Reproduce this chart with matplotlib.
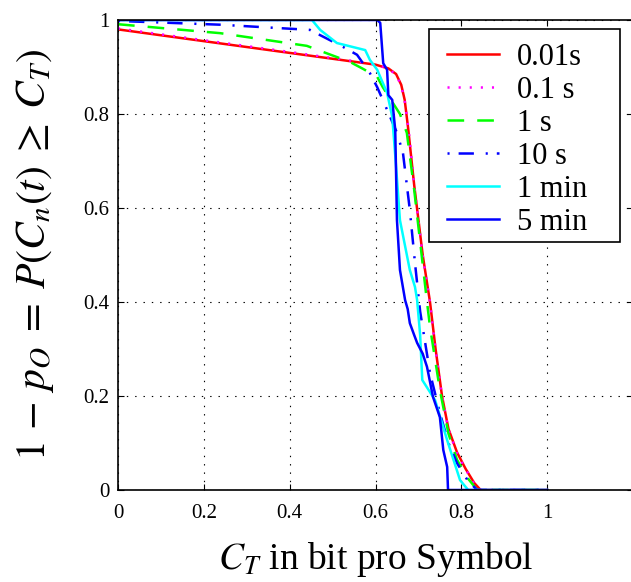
import matplotlib
matplotlib.use("Agg")
import matplotlib.pyplot as plt
from matplotlib.patches import Rectangle

plt.rcParams['font.family'] = ['Liberation Serif', 'DejaVu Serif']
plt.rcParams['mathtext.fontset'] = 'stix'
plt.rcParams['lines.scale_dashes'] = False

labels = ['0.01s', '0.1 s', '1 s', '10 s', '1 min', '5 min']

x_001 = [0.0, 0.2, 0.4, 0.6, 0.63, 0.648, 0.66, 0.668, 0.676, 0.69, 0.71, 0.727, 0.74, 0.755, 0.77, 0.79, 0.81, 0.83, 0.845, 1.0]
y_001 = [0.98, 0.955, 0.93, 0.905, 0.897, 0.885, 0.862, 0.83, 0.77, 0.65, 0.5, 0.40, 0.30, 0.20, 0.13, 0.08, 0.045, 0.015, 0.0, 0.0]

x_01 = [0.0, 0.2, 0.4, 0.6, 0.63, 0.648, 0.66, 0.668, 0.677, 0.69, 0.71, 0.727, 0.74, 0.755, 0.77, 0.79, 0.81, 0.83, 0.845, 1.0]
y_01 = [0.982, 0.957, 0.932, 0.906, 0.896, 0.884, 0.86, 0.828, 0.768, 0.648, 0.498, 0.398, 0.298, 0.198, 0.128, 0.078, 0.044, 0.014, 0.0, 0.0]

x_1 = [0.0, 0.238, 0.44, 0.478, 0.54, 0.571, 0.604, 0.617, 0.657, 0.673, 0.69, 0.705, 0.72, 0.727, 0.75, 0.77, 0.79, 0.815, 0.837, 1.0]
y_1 = [0.991, 0.972, 0.945, 0.932, 0.911, 0.896, 0.879, 0.857, 0.80, 0.76, 0.64, 0.52, 0.40, 0.347, 0.213, 0.12, 0.064, 0.025, 0.0, 0.0]

x_10 = [0.0, 0.238, 0.447, 0.524, 0.557, 0.587, 0.604, 0.617, 0.65, 0.664, 0.68, 0.692, 0.704, 0.727, 0.75, 0.77, 0.79, 0.815, 0.837, 1.0]
y_10 = [0.998, 0.99, 0.979, 0.943, 0.926, 0.887, 0.857, 0.83, 0.76, 0.717, 0.596, 0.483, 0.38, 0.249, 0.164, 0.10, 0.057, 0.02, 0.0, 0.0]

x_1m = [0.0, 0.452, 0.471, 0.51, 0.576, 0.587, 0.604, 0.627, 0.639, 0.647, 0.657, 0.68, 0.692, 0.697, 0.704, 0.709, 0.739, 0.767, 0.797, 0.816, 1.0]
y_1m = [1.0, 1.0, 0.979, 0.951, 0.936, 0.915, 0.894, 0.845, 0.794, 0.70, 0.574, 0.468, 0.432, 0.404, 0.33, 0.234, 0.191, 0.106, 0.021, 0.0, 0.0]

x_5m = [0.0, 0.604, 0.611, 0.618, 0.627, 0.63, 0.639, 0.646, 0.65, 0.657, 0.669, 0.675, 0.68, 0.69, 0.697, 0.71, 0.72, 0.734, 0.75, 0.758, 0.767, 0.769, 1.0]
y_5m = [1.0, 1.0, 0.994, 0.908, 0.894, 0.84, 0.83, 0.766, 0.574, 0.468, 0.404, 0.385, 0.355, 0.33, 0.313, 0.29, 0.262, 0.198, 0.155, 0.085, 0.049, 0.0, 0.0]

fig = plt.figure(figsize=(6.31, 5.82), dpi=100)
ax = fig.add_axes([118/631, 92/582, 515/631, 470/582])

lw = 1.8
ax.plot(x_001, y_001, color=(1, 0, 0), lw=lw, label=labels[0])
ax.plot(x_01, y_01, color=(1, 0, 1), lw=lw, dashes=(1.5, 6.5), label=labels[1])
ax.plot(x_1, y_1, color=(0, 1, 0), lw=lw, dashes=(12, 9.4), label=labels[2])
ax.plot(x_10, y_10, color=(0, 0, 1), lw=lw, dashes=(1.5, 6.5, 11, 8.5), label=labels[3])
ax.plot(x_1m, y_1m, color=(0, 1, 1), lw=lw, label=labels[4])
ax.plot(x_5m, y_5m, color=(0, 0, 1), lw=lw, label=labels[5])

ax.set_xlim(0, 1.2)
ax.set_ylim(0, 1)
ax.set_xticks([0, 0.2, 0.4, 0.6, 0.8, 1.0])
ax.set_xticklabels(['0', '0.2', '0.4', '0.6', '0.8', '1'])
ax.set_yticks([0, 0.2, 0.4, 0.6, 0.8, 1.0])
ax.set_yticklabels(['0', '0.2', '0.4', '0.6', '0.8', '1'])
ax.tick_params(direction='in', length=4, width=0.8, top=True, right=True, labelsize=15)
ax.tick_params(axis='x', pad=10)
ax.tick_params(axis='y', pad=6)
ax.grid(True, color='black', linestyle=(0, (1, 5)), linewidth=0.8)
for s in ax.spines.values():
    s.set_linewidth(1.2)

ax.set_xlabel(r'$C_T$ in bit pro Symbol', fontsize=27, labelpad=12)
ax.set_ylabel(r'$1\,-\,p_O\;=\;P(C_n(t)\;\geq\;C_T)$', fontsize=30, labelpad=20)

# legend box (white background with black frame), drawn above the curves
box = Rectangle((0.604, 0.528), 0.371, 0.453, transform=ax.transAxes,
                facecolor='white', edgecolor='black', linewidth=1.2, zorder=4)
ax.add_patch(box)
leg = ax.legend(loc='upper left', bbox_to_anchor=(0.6388, 0.951), borderaxespad=0,
                prop={'family': 'Liberation Serif', 'size': 22},
                handlelength=1.7, handletextpad=0.59, labelspacing=0.13,
                frameon=False, borderpad=0)
leg.set_zorder(5)

fig.savefig('out.png', dpi=100)
